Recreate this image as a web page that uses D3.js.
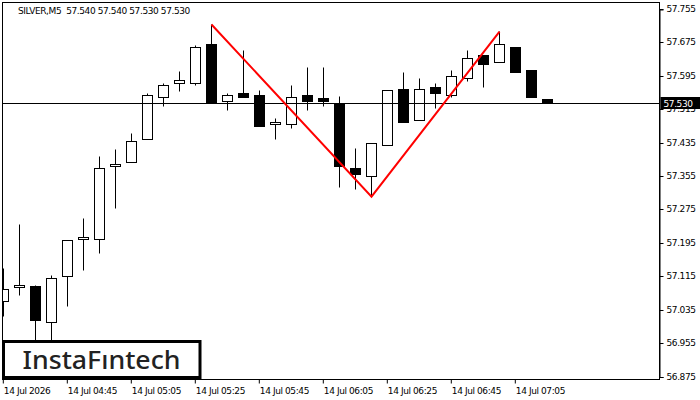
<!DOCTYPE html>
<html><head><meta charset="utf-8">
<script src="https://cdn.jsdelivr.net/npm/d3@7/dist/d3.min.js"></script>
<style>
html,body{margin:0;padding:0;background:#fff;}
svg{display:block;}
</style></head>
<body>
<svg id="c" width="700" height="400"></svg>
<script>
// ---- data ----
const times = ["04:25","04:30","04:35","04:40","04:45","04:50","04:55","05:00","05:05","05:10","05:15","05:20","05:25","05:30","05:35","05:40","05:45","05:50","05:55","06:00","06:05","06:10","06:15","06:20","06:25","06:30","06:35","06:40","06:45","06:50","06:55","07:00","07:05","07:10","07:15"];
const open  = [57.056,57.090,57.091,57.005,57.115,57.205,57.205,57.380,57.389,57.444,57.545,57.578,57.578,57.670,57.535,57.554,57.550,57.480,57.480,57.550,57.541,57.530,57.375,57.355,57.430,57.564,57.489,57.569,57.549,57.590,57.644,57.629,57.665,57.610,57.540];
const high  = [57.136,57.241,57.093,57.117,57.201,57.255,57.404,57.420,57.459,57.554,57.578,57.606,57.669,57.719,57.554,57.656,57.560,57.495,57.574,57.615,57.615,57.546,57.421,57.435,57.560,57.605,57.590,57.579,57.610,57.656,57.646,57.702,57.665,57.610,57.540];
const low   = [57.019,57.069,56.940,56.944,57.043,57.130,57.170,57.278,57.389,57.444,57.522,57.558,57.573,57.530,57.513,57.544,57.474,57.443,57.470,57.513,57.522,57.328,57.323,57.307,57.430,57.484,57.489,57.517,57.544,57.582,57.568,57.629,57.604,57.544,57.530];
const close = [57.085,57.095,57.010,57.111,57.201,57.210,57.375,57.384,57.439,57.549,57.573,57.584,57.665,57.530,57.549,57.544,57.474,57.485,57.545,57.534,57.534,57.379,57.360,57.435,57.560,57.484,57.564,57.553,57.595,57.638,57.623,57.670,57.604,57.544,57.530];
const patternIdx   = [13, 23, 31];
const patternPrice = [57.719, 57.307, 57.702];
const yTicks = [56.875,56.955,57.035,57.115,57.195,57.275,57.355,57.435,57.515,57.595,57.675,57.755];
const xTickIdx = [0,4,8,12,16,20,24,28,32];
const xTickLabels = ["14 Jul 2026","14 Jul 04:45","14 Jul 05:05","14 Jul 05:25","14 Jul 05:45","14 Jul 06:05","14 Jul 06:25","14 Jul 06:45","14 Jul 07:05"];
const lastPrice = 57.530;
const titleText = "SILVER,M5  57.540 57.540 57.530 57.530";
const logoText = "InstaFıntech";

// ---- layout ----
const L = 2.5, T = 2.5, R = 659.5, B = 379.5;
const svg = d3.select("#c");
const x = d3.scaleLinear().domain([0, 41]).range([3.5, 659.5]);
const y = d3.scaleLinear().domain([56.875, 57.755]).range([377, 9.5]);
const snap = v => Math.round(v - 0.5) + 0.5;
const font = "'DejaVu Sans', Verdana, sans-serif";

svg.append("defs").append("clipPath").attr("id","plot")
  .append("rect").attr("x", L+0.5).attr("y", T+0.5).attr("width", R-L-1).attr("height", B-T-1);

// frame
svg.append("rect").attr("x", L).attr("y", T).attr("width", R-L).attr("height", B-T)
  .attr("fill","none").attr("stroke","#000").attr("stroke-width",1);

// y axis
const yAxis = d3.axisRight(y).tickValues(yTicks).tickFormat(d3.format(".3f")).tickSize(4).tickPadding(3);
const ya = svg.append("g").attr("transform", `translate(${R},0)`).call(yAxis);
ya.select(".domain").attr("stroke","#000");
ya.selectAll(".tick line").attr("stroke","#000");
ya.selectAll(".tick text").attr("font-family", font).attr("font-size", 9).attr("letter-spacing","-0.4px").attr("fill","#000");
ya.selectAll(".tick").attr("transform", d => `translate(0,${snap(y(d))})`);

// x axis
const xa = svg.append("g").attr("transform", `translate(0,${B})`)
  .call(d3.axisBottom(x).tickValues(xTickIdx).tickFormat((d,i) => xTickLabels[i]).tickSize(4).tickPadding(2).tickSizeOuter(0));
xa.select(".domain").remove();
xa.selectAll(".tick").attr("transform", d => `translate(${x(d)-0.2},0)`);
xa.selectAll(".tick line").attr("stroke","#000");
xa.selectAll(".tick text").attr("font-family", font).attr("font-size", 9).attr("letter-spacing","-0.4px")
  .attr("fill","#000").attr("text-anchor","start").attr("x", 0.5).attr("dy","0.95em");

// candles
const g = svg.append("g").attr("clip-path","url(#plot)");
const idx = d3.range(times.length);
g.selectAll("line.wick").data(idx).enter().append("line")
  .attr("x1", i => x(i)).attr("x2", i => x(i))
  .attr("y1", i => snap(y(high[i]))).attr("y2", i => snap(y(low[i])))
  .attr("stroke","#000").attr("stroke-width",1);
g.selectAll("rect.body").data(idx).enter().append("rect")
  .attr("x", i => x(i) - 5)
  .attr("y", i => snap(y(Math.max(open[i], close[i]))))
  .attr("width", 10)
  .attr("height", i => Math.max(1, snap(y(Math.min(open[i], close[i]))) - snap(y(Math.max(open[i], close[i])))))
  .attr("fill", i => close[i] >= open[i] ? "#fff" : "#000")
  .attr("stroke","#000").attr("stroke-width",1);

// current price line
svg.append("line").attr("x1", L).attr("x2", R).attr("y1", snap(y(lastPrice))).attr("y2", snap(y(lastPrice)))
  .attr("stroke","#000").attr("stroke-width",1);

// pattern lines
svg.append("path")
  .datum(patternIdx.map((k,i) => [x(k), y(patternPrice[i])]))
  .attr("d", d3.line())
  .attr("fill","none").attr("stroke","#ff0000").attr("stroke-width",2);

// price label
const py = snap(y(lastPrice));
svg.append("rect").attr("x", R+1).attr("y", py-6.5).attr("width", 700-R-1).attr("height", 12).attr("fill","#000");
svg.append("text").attr("x", R+4).attr("y", py+3.5).text(d3.format(".3f")(lastPrice))
  .attr("font-family", font).attr("font-size", 9).attr("letter-spacing","-0.4px").attr("fill","#fff");

// title
svg.append("text").attr("x", 18).attr("y", 14).text(titleText)
  .attr("font-family", font).attr("font-size", 9).attr("letter-spacing","-0.4px").attr("fill","#000")
  .attr("xml:space","preserve").style("white-space","pre");

// logo
svg.append("rect").attr("x", 3.5).attr("y", 341.5).attr("width", 196.5).attr("height", 36)
  .attr("fill","#fff").attr("stroke","#000").attr("stroke-width",3);
svg.append("text").attr("x", 22.5).attr("y", 368.5).text(logoText)
  .attr("font-family","'Noto Sans', 'Open Sans', sans-serif").attr("font-size", 25).attr("font-weight", 500)
  .attr("fill","#222").attr("textLength", 158).attr("lengthAdjust","spacingAndGlyphs");
</script>
</body></html>
